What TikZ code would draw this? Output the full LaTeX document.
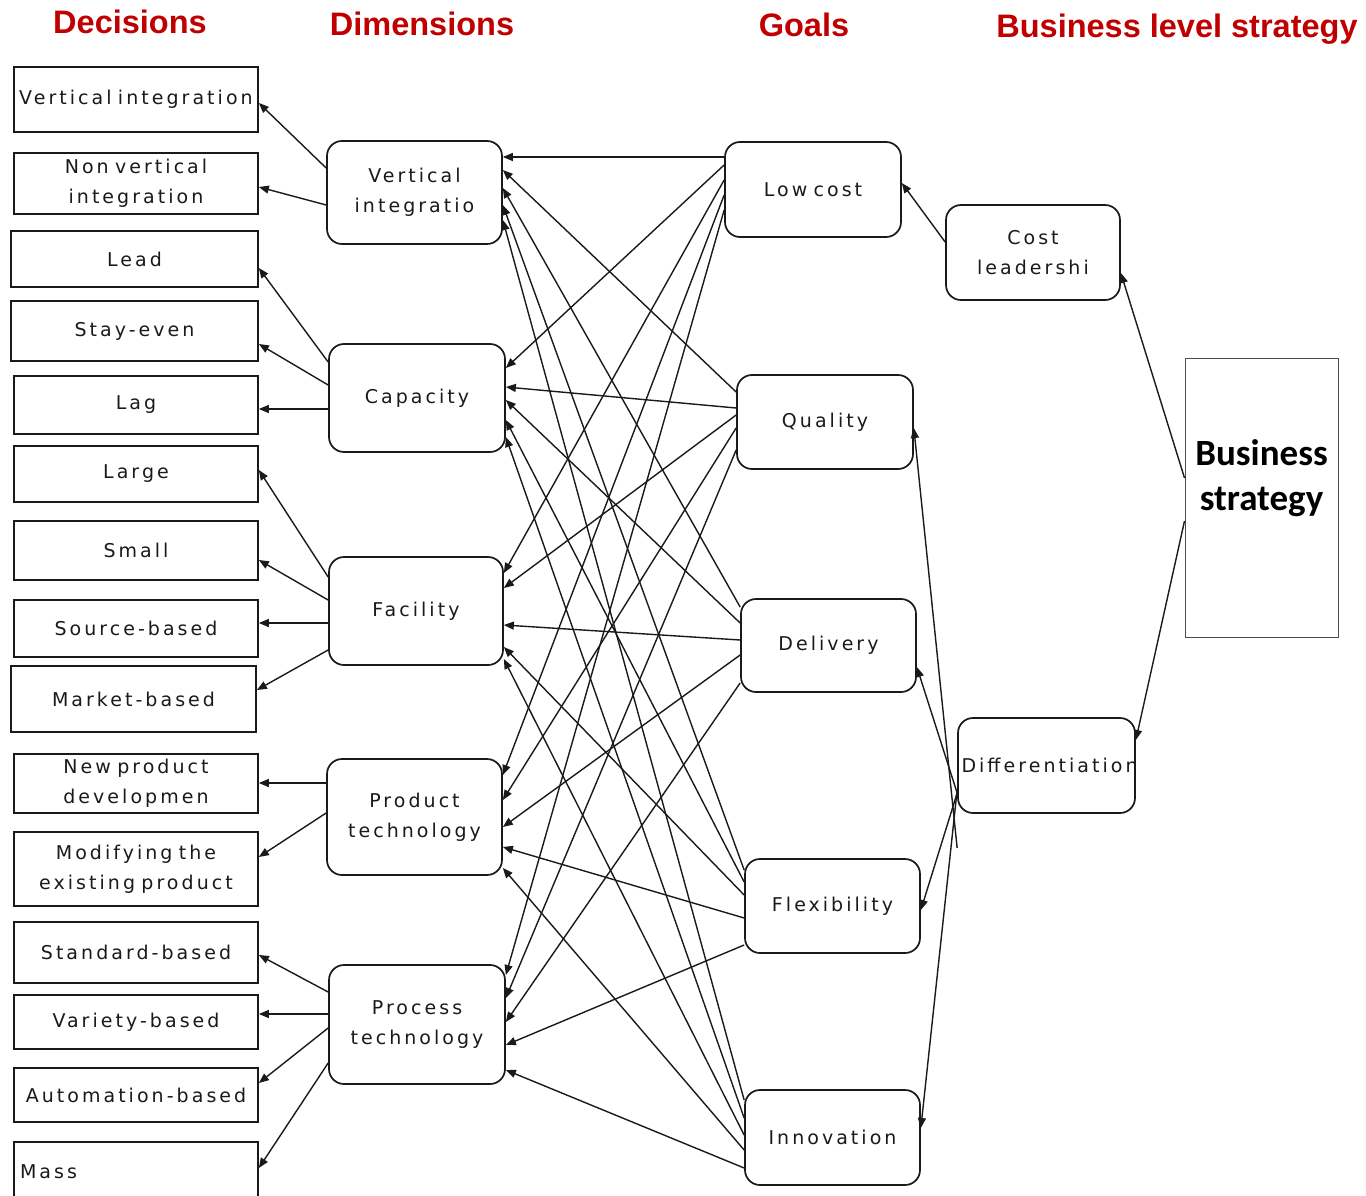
\documentclass[tikz,border=0pt]{standalone}
\usepackage{fontspec}
\usetikzlibrary{arrows.meta}
\newfontfamily\boxfont[LetterSpace=16]{DejaVu Sans}
\newfontfamily\headfont{Liberation Sans}
\newfontfamily\bsfont{Carlito}
\definecolor{headColor}{HTML}{C00000}
\definecolor{lineColor}{HTML}{1A1A1A}
\tikzset{decision box/.style={draw=lineColor, line width=1.7pt, rectangle, minimum width=244pt, text width=244pt, inner sep=0pt, align=center, font={\boxfont\fontsize{19}{30}\selectfont}}}
\tikzset{round box/.style={draw=lineColor, line width=1.7pt, rounded corners=15pt, text width=170pt, inner sep=0pt, align=center, font={\boxfont\fontsize{19}{30}\selectfont}}}
\tikzset{heading/.style={anchor=base, text=headColor, font={\headfont\bfseries\fontsize{32.5}{38}\selectfont}}}

\begin{document}
\begin{tikzpicture}[x=1pt,y=-1pt,->,>={Triangle[length=10pt,width=8pt]},line width=1.4pt,lineColor]
  \fill[white] (0,0) rectangle (1366,1196);
  \clip (0,0) rectangle (1366,1196);
  % headings
  \node[heading] at (130,34) (h_dec) {Decisions};
  \node[heading] at (422,36) (h_dim) {Dimensions};
  \node[heading] at (804,37) (h_goal) {Goals};
  \node[heading] at (1177,38) (h_bls) {Business level strategy};
  % decisions
  \node[decision box, minimum height=65pt] at (136,99.5) (vdec) {Vertical integration};
  \node[decision box, minimum height=61pt] at (136,183.5) (nvdec) {Non vertical\\integration};
  \node[decision box, minimum height=56pt, minimum width=247pt] at (134.5,259) (lead) {Lead};
  \node[decision box, minimum height=60pt, minimum width=247pt] at (134.5,331) (stay) {Stay-even};
  \node[decision box, minimum height=58pt] at (136,405) (lag) {Lag};
  \node[decision box, minimum height=56pt] at (136,474) (large) {Large};
  \node[decision box, minimum height=59pt] at (136,550.5) (small) {Small};
  \node[decision box, minimum height=57pt] at (136,628.5) (source) {Source-based};
  \node[decision box, minimum height=66pt, minimum width=245pt] at (133.5,699) (market) {Market-based};
  \node[decision box, minimum height=59pt] at (136,783.5) (newprod) {New product\\developmen};
  \node[decision box, minimum height=74pt] at (136,869) (modify) {Modifying the\\existing product};
  \node[decision box, minimum height=61pt] at (136,952.5) (standard) {Standard-based};
  \node[decision box, minimum height=54pt] at (136,1022) (variety) {Variety-based};
  \node[decision box, minimum height=54pt] at (136,1095) (automation) {Automation-based};
  \node[decision box, minimum height=60pt, text width=232pt, inner xsep=6pt, align=left] at (136,1172) (mass) {Mass};
  % dimensions
  \node[round box, minimum width=175pt, minimum height=103pt] at (414.5,192.5) (vi) {Vertical\\integratio};
  \node[round box, minimum width=176pt, minimum height=108pt] at (417,398) (cap) {Capacity};
  \node[round box, minimum width=174pt, minimum height=108pt] at (416,611) (fac) {Facility};
  \node[round box, minimum width=175pt, minimum height=116pt] at (414.5,817) (prod) {Product\\technology};
  \node[round box, minimum width=176pt, minimum height=119pt] at (417,1024.5) (proc) {Process\\technology};
  % goals
  \node[round box, minimum width=176pt, minimum height=95pt] at (813,189.5) (low) {Low cost};
  \node[round box, minimum width=176pt, minimum height=94pt] at (825,422) (qual) {Quality};
  \node[round box, minimum width=175pt, minimum height=93pt] at (828.5,645.5) (deliv) {Delivery};
  \node[round box, minimum width=175pt, minimum height=94pt] at (832.5,906) (flex) {Flexibility};
  \node[round box, minimum width=175pt, minimum height=95pt] at (832.5,1137.5) (innov) {Innovation};
  % strategies
  \node[round box, minimum width=174pt, minimum height=95pt] at (1033,252.5) (costl) {Cost\\leadershi};
  \node[round box, minimum width=177pt, minimum height=95pt] at (1046.5,765.5) (diff) {Differentiation};
  \node[draw=black!70, line width=1pt, minimum width=153pt, minimum height=279pt, inner sep=0pt] at (1261.5,497.5) (bs) {};
  \node[align=center, font={\bsfont\bfseries\fontsize{37}{45}\selectfont}, text=black] at (1261.5,478) (bs_text) {Business\\strategy};
  % dimensions to decisions
  \path (vi.west |- 0,168) edge (vdec.east |- 0,103);
  \path (vi.west |- 0,205) edge (nvdec.east |- 0,187);
  \path (cap.west |- 0,362) edge (lead.east |- 0,268);
  \path (cap.west |- 0,385) edge (stay.east |- 0,344);
  \path (cap.west |- 0,409) edge (lag.east |- 0,409);
  \path (fac.west |- 0,577) edge (large.east |- 0,470);
  \path (fac.west |- 0,600) edge (small.east |- 0,560);
  \path (fac.west |- 0,623) edge (source.east |- 0,623);
  \path (fac.west |- 0,650) edge (market.east |- 0,690);
  \path (prod.west |- 0,783) edge (newprod.east |- 0,783);
  \path (prod.west |- 0,813) edge (modify.east |- 0,857);
  \path (proc.west |- 0,992) edge (standard.east |- 0,955);
  \path (proc.west |- 0,1014) edge (variety.east |- 0,1014);
  \path (proc.west |- 0,1028) edge (automation.east |- 0,1083);
  \path (proc.west |- 0,1063) edge (mass.east |- 0,1168);
  % goals to dimensions
  \path (low.west |- 0,157) edge (vi.east |- 0,157);
  \path (low.west |- 0,165) edge (cap.east |- 0,368);
  \path (low.west |- 0,180) edge (fac.east |- 0,573);
  \path (low.west |- 0,195) edge (prod.east |- 0,775);
  \path (low.west |- 0,210) edge (proc.east |- 0,975);
  \path (qual.west |- 0,392) edge (vi.east |- 0,170);
  \path (qual.west |- 0,408) edge (cap.east |- 0,387);
  \path (qual.west |- 0,415) edge (fac.east |- 0,588);
  \path (qual.west |- 0,428) edge (prod.east |- 0,800);
  \path (qual.west |- 0,450) edge (proc.east |- 0,998);
  \path (deliv.west |- 0,607) edge (vi.east |- 0,188);
  \path (deliv.west |- 0,623) edge (cap.east |- 0,400);
  \path (deliv.west |- 0,640) edge (fac.east |- 0,625);
  \path (deliv.west |- 0,655) edge (prod.east |- 0,827);
  \path (deliv.west |- 0,683) edge (proc.east |- 0,1022);
  \path (flex.west |- 0,870) edge (vi.east |- 0,205);
  \path (flex.west |- 0,882) edge (cap.east |- 0,420);
  \path (flex.west |- 0,895) edge (fac.east |- 0,647);
  \path (flex.west |- 0,918) edge (prod.east |- 0,847);
  \path (flex.west |- 0,945) edge (proc.east |- 0,1045);
  \path (innov.west |- 0,1100) edge (vi.east |- 0,220);
  \path (innov.west |- 0,1118) edge (cap.east |- 0,437);
  \path (innov.west |- 0,1135) edge (fac.east |- 0,659);
  \path (innov.west |- 0,1150) edge (prod.east |- 0,868);
  \path (innov.west |- 0,1168) edge (proc.east |- 0,1070);
  % strategies to goals
  \path (costl.west |- 0,242) edge (low.east |- 0,183);
  \path (diff.west |- 0,848) edge (qual.east |- 0,428);
  \path (diff.west |- 0,793) edge (deliv.east |- 0,667);
  \path (diff.west |- 0,793) edge (flex.east |- 0,910);
  \path (diff.west |- 0,790) edge (innov.east |- 0,1128);
  % business strategy
  \path (bs.west |- 0,478) edge (costl.east |- 0,273);
  \path (bs.west |- 0,521) edge (diff.east |- 0,740);
\end{tikzpicture}
\end{document}
